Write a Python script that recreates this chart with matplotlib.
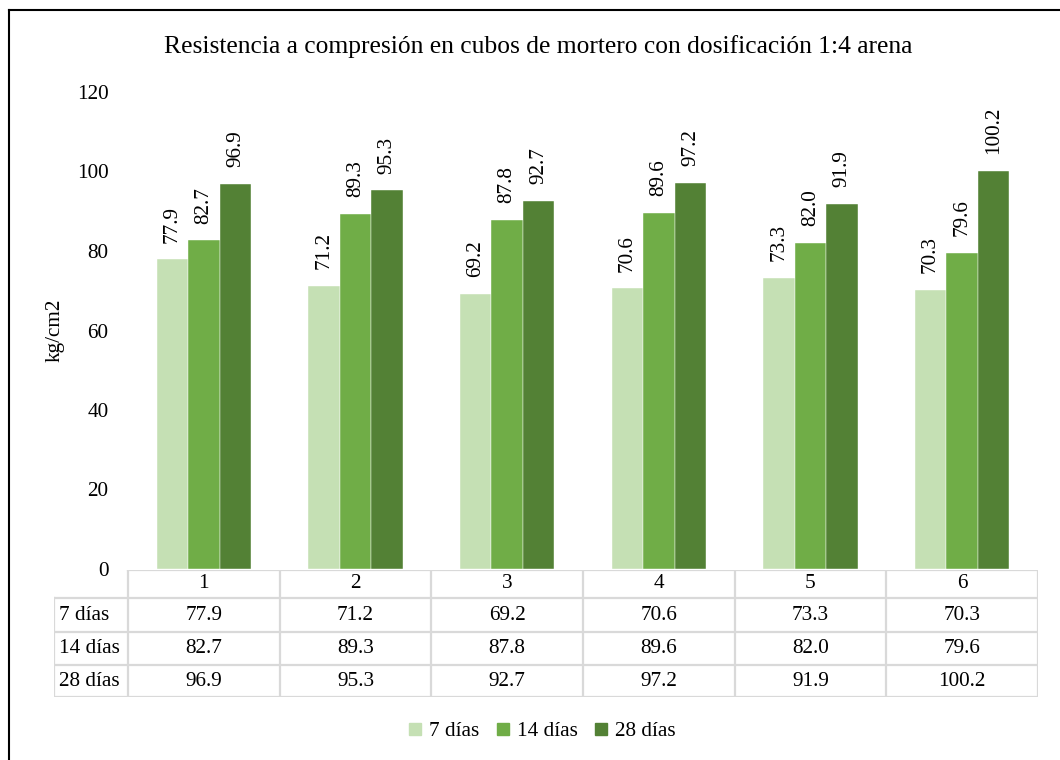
import numpy as np
import matplotlib.pyplot as plt
from matplotlib.lines import Line2D

plt.rcParams['font.family'] = ['Liberation Serif', 'DejaVu Serif']

# data
muestras = ["1", "2", "3", "4", "5", "6"]
series = ["7 días", "14 días", "28 días"]
dias_7 = [77.9, 71.2, 69.2, 70.6, 73.3, 70.3]
dias_14 = [82.7, 89.3, 87.8, 89.6, 82.0, 79.6]
dias_28 = [96.9, 95.3, 92.7, 97.2, 91.9, 100.2]
colores = ["#C5E0B4", "#70AD47", "#538135"]

W, H = 1060, 760
fs = 15.3
fig = plt.figure(figsize=(W / 100, H / 100), dpi=100)

def box(x0, y0, x1, y1):
    # pixel box (top-left origin) -> figure fraction rect
    return [x0 / W, 1 - y1 / H, (x1 - x0) / W, (y1 - y0) / H]

ax = fig.add_axes(box(128, 92, 1038, 569))
x = np.arange(len(muestras))
bw = 0.208
valores = [dias_7, dias_14, dias_28]
for i, (vals, nombre, c) in enumerate(zip(valores, series, colores)):
    bars = ax.bar(x + (i - 1) * bw, vals, width=bw, color=c, label=nombre,
                  edgecolor="white", linewidth=0.3)
    ax.bar_label(bars, labels=[f"{v:.1f}" for v in vals], rotation=90,
                 padding=12, fontsize=fs)

ax.set_xlim(-0.5, len(muestras) - 0.5)
ax.set_ylim(0, 120)
ax.set_yticks(range(0, 121, 20))
ax.tick_params(axis="y", length=0, labelsize=fs, pad=14)
ax.set_xticks([])
for s in ax.spines.values():
    s.set_visible(False)
ax.set_ylabel("kg/cm2", fontsize=fs, labelpad=9)

fig.text(538 / W, 1 - 47 / H, "Resistencia a compresión en cubos de mortero con dosificación 1:4 arena",
         ha="center", va="center", fontsize=18.4)

# data table below the chart
label_w = (128 - 54) / (1038 - 128) * len(muestras)
tab = fig.add_axes(box(54, 570, 1038, 697))
tab.set_xlim(-0.5 - label_w, len(muestras) - 0.5)
rows_y = [0, 28, 62, 95, 127]
tab.set_ylim(127, 0)
tab.axis("off")
gc = "#D9D9D9"
lw = 1.6
# horizontal lines
tab.plot([-0.5, len(muestras) - 0.5], [0, 0], color=gc, lw=lw)
for yy in rows_y[1:]:
    tab.plot([-0.5 - label_w, len(muestras) - 0.5], [yy, yy], color=gc, lw=lw)
# vertical lines
tab.plot([-0.5 - label_w] * 2, [rows_y[1], rows_y[-1]], color=gc, lw=lw)
for k in range(len(muestras) + 1):
    tab.plot([k - 0.5] * 2, [0, rows_y[-1]], color=gc, lw=lw)

for k, m in enumerate(muestras):
    tab.text(k, (rows_y[0] + rows_y[1]) / 2, m, ha="center", va="center", fontsize=fs)
for r, (nombre, vals) in enumerate(zip(series, valores)):
    yc = (rows_y[r + 1] + rows_y[r + 2]) / 2
    tab.text(-0.5 - label_w + 0.03, yc, nombre, ha="left", va="center", fontsize=fs)
    for k, v in enumerate(vals):
        tab.text(k, yc, f"{v:.1f}", ha="center", va="center", fontsize=fs)

handles = [Line2D([0], [0], marker="s", ls="", markersize=8, color=c) for c in colores]
fig.legend(handles, series, loc="center", bbox_to_anchor=(540 / W, 1 - 731 / H),
           ncol=3, frameon=False, fontsize=fs, handletextpad=0.15,
           columnspacing=0.6, handlelength=1.0)

# outer frame (left and top edges visible)
fig.add_artist(Line2D([9 / W, 9 / W], [0, 1 - 10 / H], color="black", lw=1.5,
                      transform=fig.transFigure))
fig.add_artist(Line2D([9 / W, 1], [1 - 10 / H, 1 - 10 / H], color="black", lw=1.5,
                      transform=fig.transFigure))

fig.savefig("out.png", dpi=100)
